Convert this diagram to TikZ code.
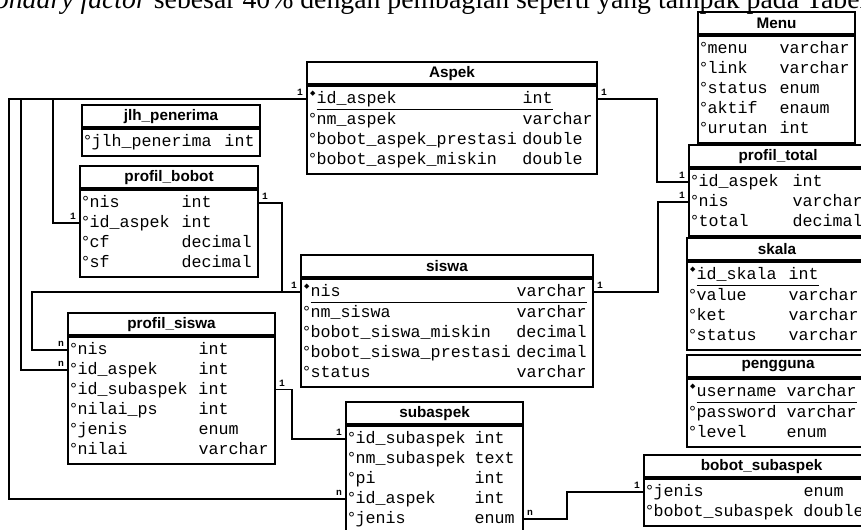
\documentclass[tikz,border=0pt]{standalone}
\usepackage{fontspec}
\setmainfont{Liberation Serif}
\newfontfamily\monofont{Liberation Mono}
\newfontfamily\headfont{Liberation Sans}
\newfontfamily\symfont{DejaVu Sans}
\usetikzlibrary{positioning}

% markers and rows of a table
\newcommand\erattr{\makebox[0.13cm][l]{\hspace{-0.05cm}°}}
\newcommand\erkey{\makebox[0.13cm][l]{\raisebox{0.95ex}{\symfont\fontsize{4}{4}\selectfont ◆}}}
\newcommand\keyname[1]{\underline{\makebox[\linewidth][l]{\vphantom{p\_}#1}}}
\newcommand\keytype[1]{\underline{\vphantom{p\_}#1}}
\newcommand\tblrows[3]{\makebox[#1][l]{\begin{tabular}{@{\hspace{0.06cm}}l@{}p{#2}@{}l@{}}#3\end{tabular}}}

\tikzset{
  tblhead/.style={draw, line width=1.2pt, anchor=north west, inner sep=0pt, minimum height=0.44cm,
    font=\headfont\bfseries\fontsize{8.7}{10}\selectfont},
  tblbody/.style={draw, line width=1.2pt, anchor=north west, inner xsep=0pt, inner ysep=2pt,
    font=\monofont\fontsize{9.5}{11.38}\selectfont},
  conn/.style={line width=1.1pt},
  card/.style={inner sep=1.2pt, font=\monofont\bfseries\fontsize{5.5}{6}\selectfont}
}

\begin{document}
\begin{tikzpicture}[x=0.02cm,y=-0.02cm]
  \useasboundingbox (0,0) rectangle (861,529);
  \clip (0,0) rectangle (861,529);
  \fill[white] (0,0) rectangle (861,529);
  % text line of the page above the figure
  \node[anchor=base west, inner sep=0pt, font=\fontsize{15.8}{18}\selectfont] (intro) at (300,8)
    {\llap{\textit{secondary factor} sebesar 40\% }dengan pembagian seperti yang tampak pada Tabel};

  % tables
  \node[tblhead, minimum width=3.14cm] (menuh) at (697,11) {Menu};
  \node[tblbody] (menu) at (menuh.south west) {\tblrows{3.14cm}{1.44cm}{
    \erattr & menu & varchar\\
    \erattr & link & varchar\\
    \erattr & status & enum\\
    \erattr & aktif & enaum\\
    \erattr & urutan & int}};

  \node[tblhead, minimum width=5.8cm] (aspekh) at (306,61) {Aspek};
  \node[tblbody] (aspek) at (aspekh.south west) {\tblrows{5.8cm}{4.12cm}{
    \erkey & \keyname{id\_aspek} & \keytype{int}\\
    \erattr & nm\_aspek & varchar\\
    \erattr & bobot\_aspek\_prestasi & double\\
    \erattr & bobot\_aspek\_miskin & double}};

  \node[tblhead, minimum width=3.56cm] (jlhh) at (81,104) {jlh\_penerima};
  \node[tblbody] (jlh) at (jlhh.south west) {\tblrows{3.56cm}{2.66cm}{
    \erattr & jlh\_penerima & int}};

  \node[tblhead, minimum width=3.56cm] (pbototh) at (79,165) {profil\_bobot};
  \node[tblbody] (pbobot) at (pbototh.south west) {\tblrows{3.56cm}{1.84cm}{
    \erattr & nis & int\\
    \erattr & id\_aspek & int\\
    \erattr & cf & decimal\\
    \erattr & sf & decimal}};

  \node[tblhead, minimum width=3.56cm] (ptotalh) at (688,144) {profil\_total};
  \node[tblbody] (ptotal) at (ptotalh.south west) {\tblrows{3.56cm}{1.88cm}{
    \erattr & id\_aspek & int\\
    \erattr & nis & varchar\\
    \erattr & total & decimal}};

  \node[tblhead, minimum width=3.6cm] (skalah) at (686,237) {skala};
  \node[tblbody] (skala) at (skalah.south west) {\tblrows{3.6cm}{1.84cm}{
    \erkey & \keyname{id\_skala} & \keytype{int}\\
    \erattr & value & varchar\\
    \erattr & ket & varchar\\
    \erattr & status & varchar}};

  \node[tblhead, minimum width=5.84cm] (siswah) at (300,254) {siswa};
  \node[tblbody] (siswa) at (siswah.south west) {\tblrows{5.84cm}{4.12cm}{
    \erkey & \keyname{nis} & \keytype{varchar}\\
    \erattr & nm\_siswa & varchar\\
    \erattr & bobot\_siswa\_miskin & decimal\\
    \erattr & bobot\_siswa\_prestasi & decimal\\
    \erattr & status & varchar}};

  \node[tblhead, minimum width=4.14cm] (psiswah) at (67,312) {profil\_siswa};
  \node[tblbody] (psiswa) at (psiswah.south west) {\tblrows{4.14cm}{2.42cm}{
    \erattr & nis & int\\
    \erattr & id\_aspek & int\\
    \erattr & id\_subaspek & int\\
    \erattr & nilai\_ps & int\\
    \erattr & jenis & enum\\
    \erattr & nilai & varchar}};

  \node[tblhead, minimum width=3.64cm] (penggunah) at (686,354) {pengguna};
  \node[tblbody] (pengguna) at (penggunah.south west) {\tblrows{3.64cm}{1.8cm}{
    \erkey & \keyname{username} & \keytype{varchar}\\
    \erattr & password & varchar\\
    \erattr & level & enum}};

  \node[tblhead, minimum width=3.54cm] (subaspekh) at (345,401) {subaspek};
  \node[tblbody] (subaspek) at (subaspekh.south west) {\tblrows{3.54cm}{2.38cm}{
    \erattr & id\_subaspek & int\\
    \erattr & nm\_subaspek & text\\
    \erattr & pi & int\\
    \erattr & id\_aspek & int\\
    \erattr & jenis & enum}};

  \node[tblhead, minimum width=4.7cm] (bsubh) at (643,454) {bobot\_subaspek};
  \node[tblbody] (bsub) at (bsubh.south west) {\tblrows{4.7cm}{3.0cm}{
    \erattr & jenis & enum\\
    \erattr & bobot\_subaspek & double}};

  % relations
  \draw[conn] ([yshift=-7.7pt]aspek.north west) node[card, above left] {1}
    -| (9,300) |- ([yshift=-41.8pt]subaspek.north west) node[card, above left] {n};
  \draw[conn] ([yshift=-7.7pt]aspek.north west)
    -| (21,300) |- ([yshift=-19.1pt]psiswa.north west) node[card, above left] {n};
  \draw[conn] ([yshift=-7.7pt]aspek.north west)
    -| (53,150) |- ([yshift=-19.1pt]pbobot.north west) node[card, above left] {1};
  \draw[conn] ([yshift=-7.7pt]siswa.north west) node[card, above left] {1}
    -| (32,320) |- ([yshift=-7.7pt]psiswa.north west) node[card, above left] {n};
  \draw[conn] ([yshift=-7.7pt]pbobot.north east) node[card, above right] {1}
    -| (282,250) |- ([yshift=-7.7pt]siswa.north west);
  \draw[conn] ([yshift=-30.4pt]psiswa.north east) node[card, above right] {1}
    -| (292,410) |- ([yshift=-7.7pt]subaspek.north west) node[card, above left] {1};
  \draw[conn] ([yshift=-7.7pt]aspek.north east) node[card, above right] {1}
    -| (657,140) |- ([yshift=-7.7pt]ptotal.north west) node[card, above left] {1};
  \draw[conn] ([yshift=-7.7pt]siswa.north east) node[card, above right] {1}
    -| (658,240) |- ([yshift=-19.1pt]ptotal.north west) node[card, above left] {1};
  \draw[conn] ([yshift=-53.2pt]subaspek.north east) node[card, above right] {n}
    -| (567,500) |- ([yshift=-7.7pt]bsub.north west) node[card, above left] {1};
\end{tikzpicture}
\end{document}
